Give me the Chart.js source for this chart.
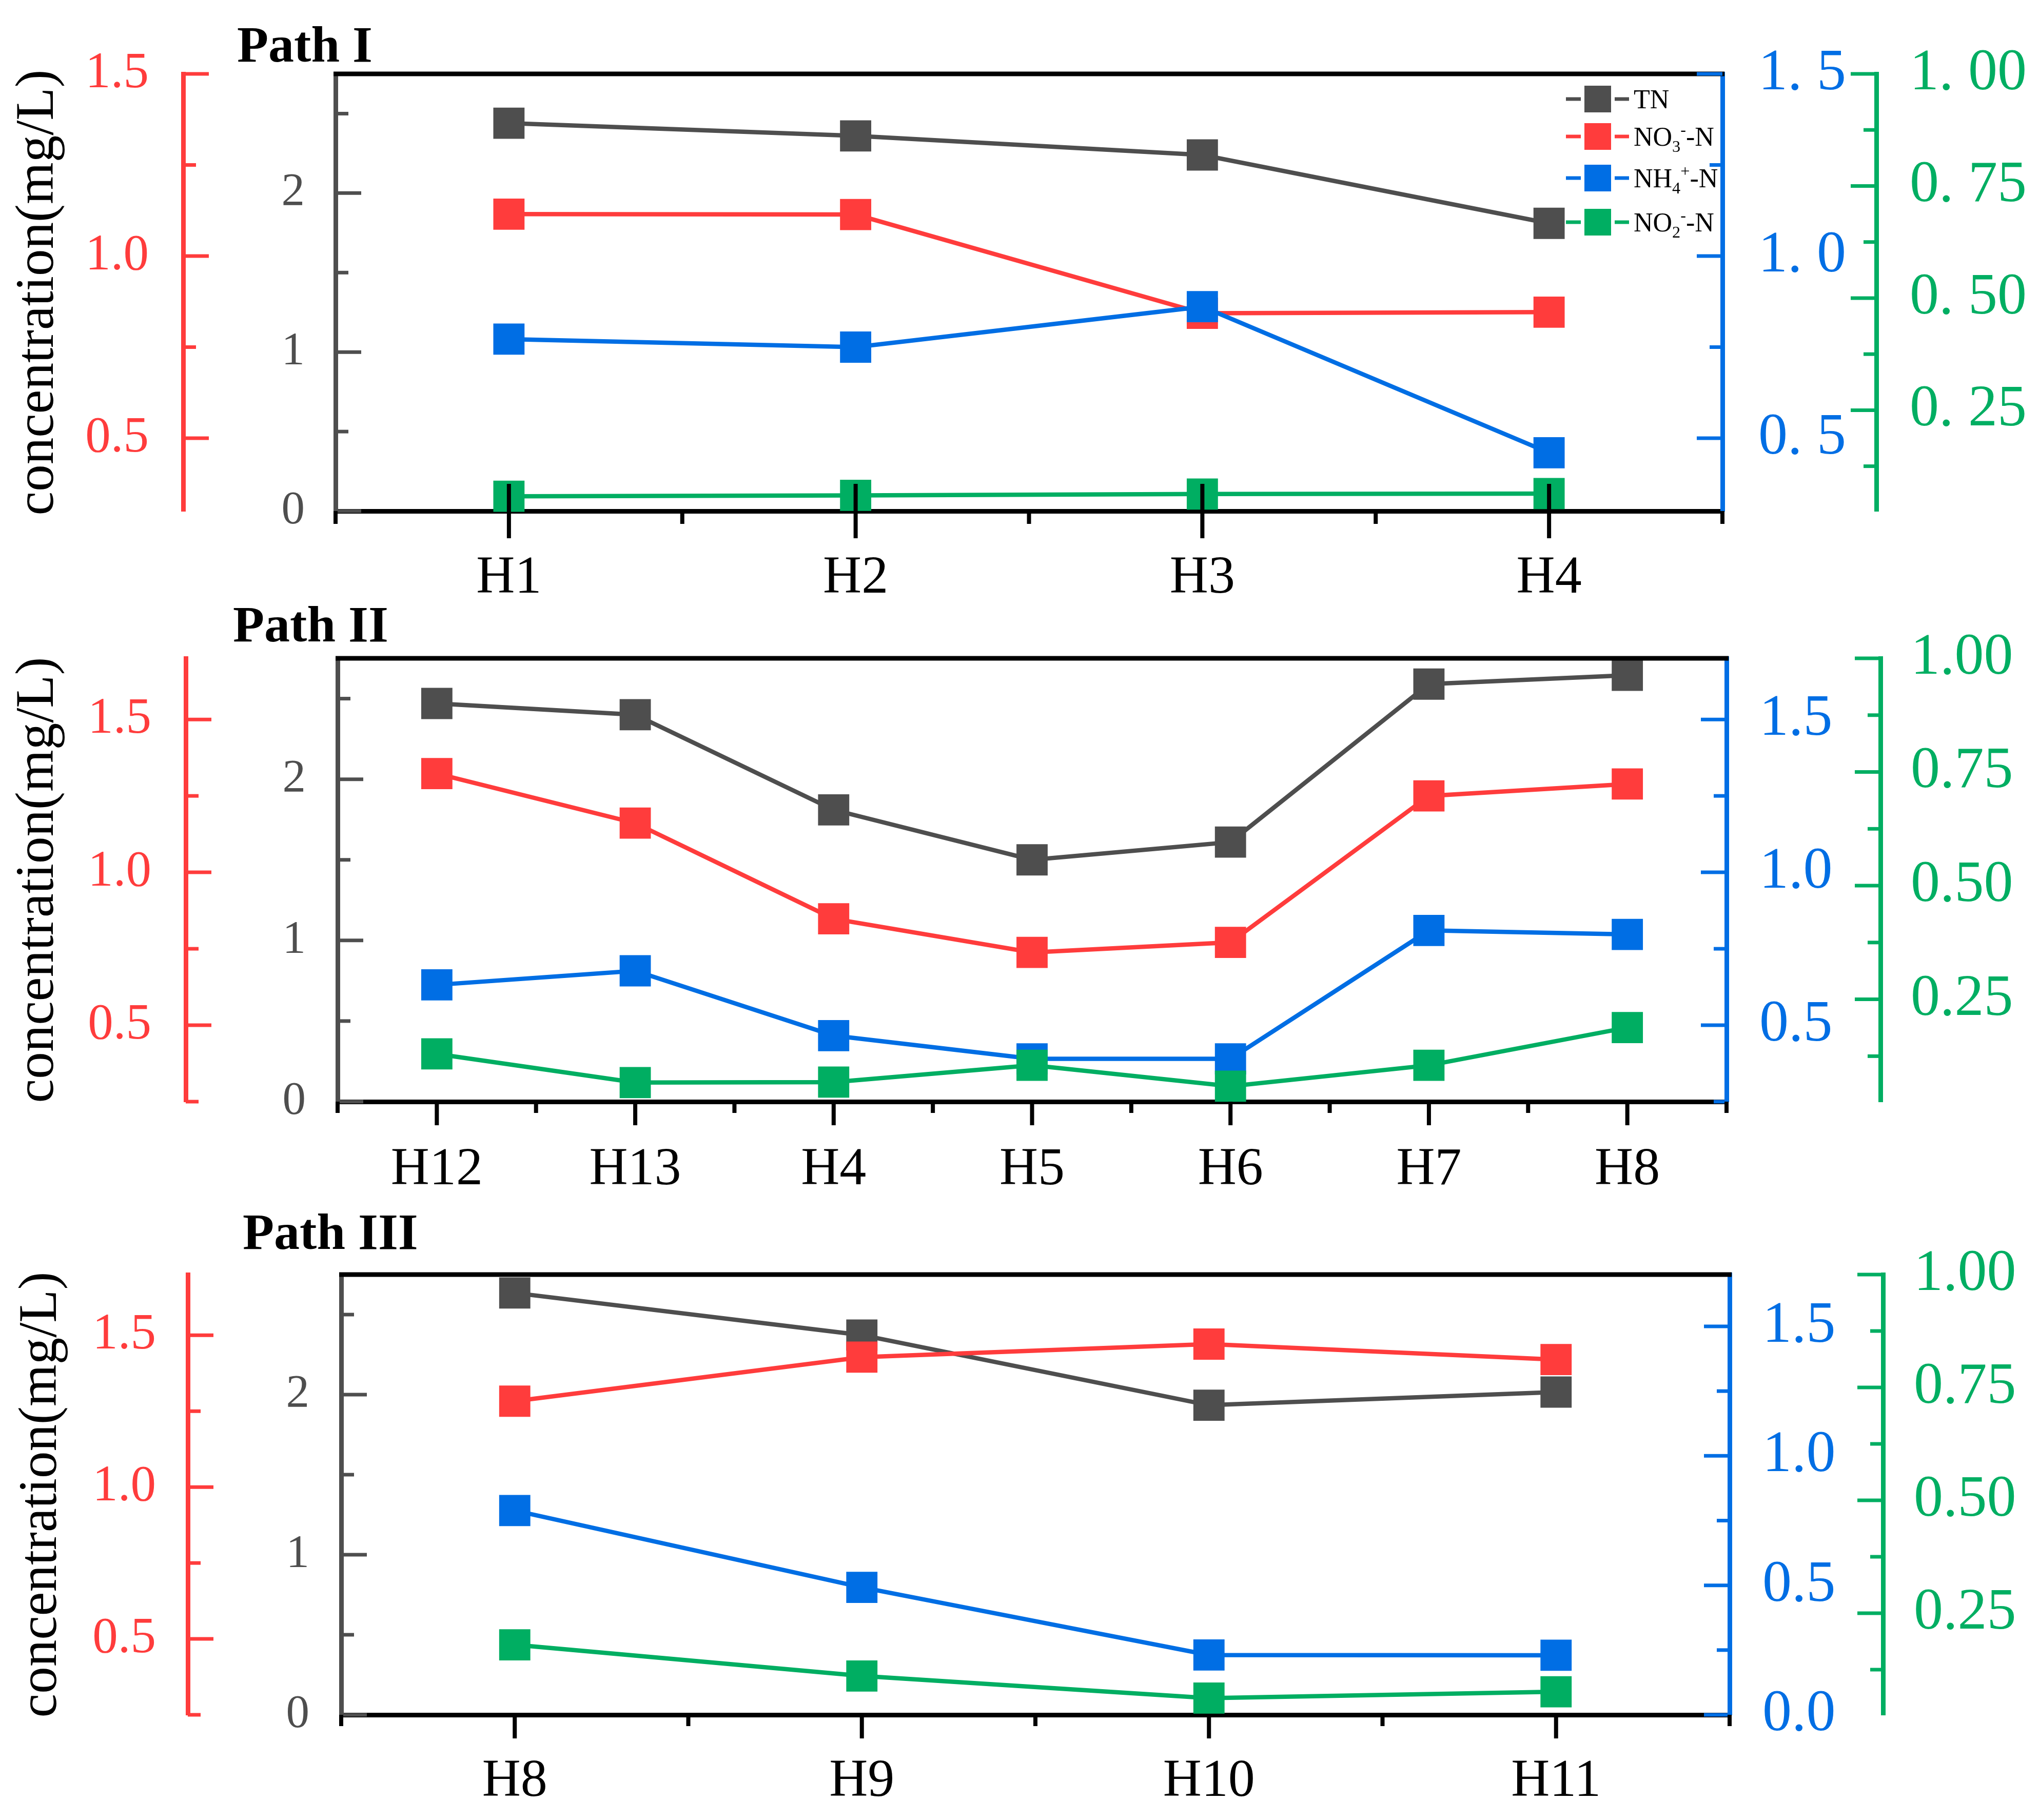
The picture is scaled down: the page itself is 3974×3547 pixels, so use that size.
<!DOCTYPE html>
<html>
<head>
<meta charset="utf-8">
<script src="https://cdn.jsdelivr.net/npm/chart.js@4.4.1/dist/chart.umd.min.js"></script>
<style>
  html, body { margin: 0; padding: 0; background: #fff; }
  #page { position: relative; width: 3974px; height: 3547px; background: #fff; }
  canvas { position: absolute; left: 0; }
</style>
</head>
<body>
<div id="page">
  <canvas id="pathI" width="3974" height="1200" style="top:0px"></canvas>
  <canvas id="pathII" width="3974" height="1280" style="top:1100px"></canvas>
  <canvas id="pathIII" width="3974" height="1267" style="top:2280px"></canvas>
</div>
<script>
// --- data ---
const catsI = ['H1', 'H2', 'H3', 'H4'];
const tnI  = [2.44, 2.36, 2.24, 1.81];
const no3I = [1.115, 1.114, 0.843, 0.846];
const nh4I = [0.772, 0.75, 0.861, 0.46];
const no2I = [0.058, 0.06, 0.063, 0.064];

const catsII = ['H12', 'H13', 'H4', 'H5', 'H6', 'H7', 'H8'];
const tnII  = [2.47, 2.40, 1.81, 1.50, 1.61, 2.59, 2.645];
const no3II = [1.323, 1.161, 0.848, 0.738, 0.771, 1.25, 1.289];
const nh4II = [0.632, 0.678, 0.466, 0.39, 0.39, 0.81, 0.797];
const no2II = [0.13, 0.067, 0.068, 0.105, 0.059, 0.105, 0.188];

const catsIII = ['H8', 'H9', 'H10', 'H11'];
const tnIII  = [2.635, 2.372, 1.934, 2.016];
const no3III = [1.283, 1.428, 1.471, 1.42];
const nh4III = [0.789, 0.492, 0.231, 0.23];
const no2III = [0.18, 0.111, 0.062, 0.076];

// axis ranges [min, max, step]
const tnAxis = [0, 2.75, 1];
const no3AxisI = [0.3, 1.5, 0.5];
const no3AxisII = [0.25, 1.7, 0.5];
const nh4AxisI = [0.3, 1.5, 0.5];
const nh4AxisII = [0.25, 1.7, 0.5];
const nh4AxisIII = [0, 1.7, 0.5];
const no2Axis = [0.025, 1, 0.25];

// legend names: [text, 0 normal / -1 subscript / 1 superscript]
const nameTN  = [['TN', 0]];
const nameNO3 = [['NO', 0], ['3', -1], ['-', 1], ['-N', 0]];
const nameNH4 = [['NH', 0], ['4', -1], ['+', 1], ['-N', 0]];
const nameNO2 = [['NO', 0], ['2', -1], ['-', 1], ['-N', 0]];

const GRAY = '#4e4e4e';
const RED = '#ff3c3c';
const BLUE = '#006ee4';
const GREEN = '#00ae62';
const SERIF = "'Liberation Serif', 'Times New Roman', serif";

const legendItems = [
    { color: GRAY, parts: nameTN },
    { color: RED, parts: nameNO3 },
    { color: BLUE, parts: nameNH4 },
    { color: GREEN, parts: nameNO2 }
];

function drawRich(ctx, x, y, parts, size) {
    parts.forEach(([t, k]) => {
        const fs = k ? size * 0.62 : size;
        ctx.font = fs + 'px ' + SERIF;
        const dy = k < 0 ? size * 0.24 : (k > 0 ? -size * 0.40 : 0);
        ctx.fillText(t, x, y + dy);
        x += ctx.measureText(t).width;
    });
}

// ticks (inward, major + minor), top frame, panel title, legend
const frameTicks = {
    id: 'frameTicks',
    afterDraw(chart, args, o) {
        const ctx = chart.ctx, a = chart.chartArea;
        const seg = (x1, y1, x2, y2) => { ctx.beginPath(); ctx.moveTo(x1, y1); ctx.lineTo(x2, y2); ctx.stroke(); };
        ctx.save();
        ctx.lineCap = 'butt';

        ctx.strokeStyle = '#000';
        ctx.lineWidth = 9;
        seg(a.left - 4, a.top, a.right + 4, a.top);

        ['yT', 'yR', 'yB', 'yG'].forEach(id => {
            const s = chart.scales[id];
            const isLeft = s.options.position === 'left';
            const x0 = isLeft ? s.right : s.left;
            const d = isLeft ? 1 : -1;
            ctx.strokeStyle = s.options.border.color;
            ctx.lineWidth = 7;
            s.ticks.forEach(t => {
                const y = s.getPixelForValue(t.value);
                seg(x0, y, x0 + d * 50, y);
            });
            const step = o.minor[id];
            for (let k = Math.ceil(s.min / step - 1e-6); k * step <= s.max + 1e-6; k++) {
                if (k % 2 === 0) continue;
                const y = s.getPixelForValue(k * step);
                seg(x0, y, x0 + d * 25, y);
            }
        });

        const xs = chart.scales.x;
        const n = chart.data.labels.length;
        const w = xs.getPixelForValue(1) - xs.getPixelForValue(0);
        ctx.strokeStyle = '#000';
        ctx.lineWidth = 8;
        for (let i = 0; i < n; i++) {
            const x = xs.getPixelForValue(i);
            seg(x, a.bottom - o.xIn, x, a.bottom + o.xOut);
        }
        for (let i = 0; i <= n; i++) {
            const x = xs.getPixelForValue(i) - w / 2;
            seg(x, a.bottom, x, a.bottom + o.xMinor);
        }

        ctx.fillStyle = '#000';
        ctx.textAlign = 'left';
        ctx.textBaseline = 'alphabetic';
        ctx.font = 'bold 100px ' + SERIF;
        ctx.fillText(o.title, o.titleX, o.titleY);

        if (o.legend) {
            const rows = [49, 122, 203, 289];
            legendItems.forEach((it, i) => {
                const cy = a.top + rows[i];
                ctx.strokeStyle = it.color;
                ctx.lineWidth = 7;
                seg(a.right - 305, cy, a.right - 276, cy);
                seg(a.right - 210, cy, a.right - 182, cy);
                ctx.fillStyle = it.color;
                ctx.fillRect(a.right - 269, cy - 26, 52, 52);
                ctx.fillStyle = '#000';
                drawRich(ctx, a.right - 173, cy + 18, it.parts, 52);
            });
        }
        ctx.restore();
    }
};

function line(label, data, color, axis, order) {
    return {
        label: label, data: data, yAxisID: axis, order: order,
        borderColor: color, backgroundColor: color,
        pointBackgroundColor: color, pointBorderColor: color, pointBorderWidth: 0,
        pointStyle: 'rect', pointRadius: 43, pointHoverRadius: 43,
        borderWidth: 8.5, tension: 0, clip: false
    };
}

function yAxis(pos, weight, color, range, size, pad, width, fmt, title, titlePad) {
    return {
        type: 'linear', position: pos, weight: weight,
        min: range[0], max: range[1],
        afterFit: s => {
            s.width = width;
            // label padding must not push the plot area down
            s.paddingTop = 0;
            s.paddingBottom = 0;
        },
        grid: { drawOnChartArea: false, drawTicks: false },
        border: { display: true, color: color, width: 9 },
        ticks: {
            stepSize: range[2], includeBounds: false, color: color, padding: pad,
            font: { family: SERIF, size: size }, callback: fmt
        },
        title: title ? {
            display: true, text: title, color: '#000',
            font: { family: SERIF, size: 105 }, padding: { top: titlePad, bottom: 0 }
        } : { display: false }
    };
}

function buildChart(id, cats, tn, no3, nh4, no2, ax, L) {
    const sp = v => L.spaced ? v.replace('.', '. ') : v;
    return new Chart(document.getElementById(id), {
        type: 'line',
        data: {
            labels: cats,
            datasets: [
                line('TN', tn, GRAY, 'yT', 3),
                line('NO3--N', no3, RED, 'yR', 2),
                line('NH4+-N', nh4, BLUE, 'yB', 1),
                line('NO2--N', no2, GREEN, 'yG', 0)
            ]
        },
        options: {
            responsive: false,
            animation: false,
            devicePixelRatio: 1,
            events: [],
            layout: { padding: { top: L.top, left: 0, right: 0, bottom: 0 } },
            plugins: {
                legend: { display: false },
                tooltip: { enabled: false },
                frameTicks: {
                    minor: { yT: 0.5, yR: 0.25, yB: 0.25, yG: 0.125 },
                    xIn: L.xIn, xOut: L.xOut, xMinor: L.xMinor,
                    title: L.title, titleX: L.titleX, titleY: L.titleY,
                    legend: L.legend
                }
            },
            scales: {
                x: {
                    type: 'category', position: 'bottom', offset: true, z: 1,
                    afterFit: s => { s.height = L.xH; s.paddingLeft = 0; s.paddingRight = 0; },
                    grid: { drawOnChartArea: false, drawTicks: false, offset: false },
                    border: { color: '#000', width: 9 },
                    ticks: {
                        color: '#000', padding: L.padX, maxRotation: 0, autoSkip: false,
                        font: { family: SERIF, size: 104 }
                    }
                },
                yR: yAxis('left', 2, RED, ax.r, 99, L.padR, L.redW, v => v.toFixed(1), 'concentration(mg/L)', L.titlePad),
                yT: yAxis('left', 1, GRAY, ax.t, 91, L.padT, L.grayW, v => String(v)),
                yB: yAxis('right', 1, BLUE, ax.b, 114, L.padB, L.blueW, v => sp(v.toFixed(1))),
                yG: yAxis('right', 2, GREEN, ax.g, 114, L.padG, L.greenW, v => sp(v.toFixed(2)))
            }
        },
        plugins: [frameTicks]
    });
}

document.addEventListener('DOMContentLoaded', () => {
    buildChart('pathI', catsI, tnI, no3I, nh4I, no2I,
        { t: tnAxis, r: no3AxisI, b: nh4AxisI, g: no2Axis },
        { top: 144, xH: 204, redW: 357, grayW: 297, blueW: 300, greenW: 317,
          padR: 67, padT: 60, padB: 70, padG: 65, padX: 69, titlePad: 12, spaced: true,
          xIn: 53, xOut: 53, xMinor: 25, title: 'Path I', titleX: 462, titleY: 120, legend: true });

    buildChart('pathII', catsII, tnII, no3II, nh4II, no2II,
        { t: tnAxis, r: no3AxisII, b: nh4AxisII, g: no2Axis },
        { top: 183, xH: 233, redW: 362, grayW: 296, blueW: 300, greenW: 309,
          padR: 67, padT: 62, padB: 64, padG: 59, padX: 71, titlePad: 12, spaced: false,
          xIn: 0, xOut: 46, xMinor: 22, title: 'Path II', titleX: 454, titleY: 150, legend: false });

    buildChart('pathIII', catsIII, tnIII, no3III, nh4III, no2III,
        { t: tnAxis, r: no3AxisII, b: nh4AxisIII, g: no2Axis },
        { top: 204, xH: 205, redW: 366, grayW: 299, blueW: 299, greenW: 304,
          padR: 62, padT: 62, padB: 64, padG: 60, padX: 68, titlePad: 18, spaced: false,
          xIn: 0, xOut: 46, xMinor: 22, title: 'Path III', titleX: 473, titleY: 154, legend: false });
});
</script>
</body>
</html>
